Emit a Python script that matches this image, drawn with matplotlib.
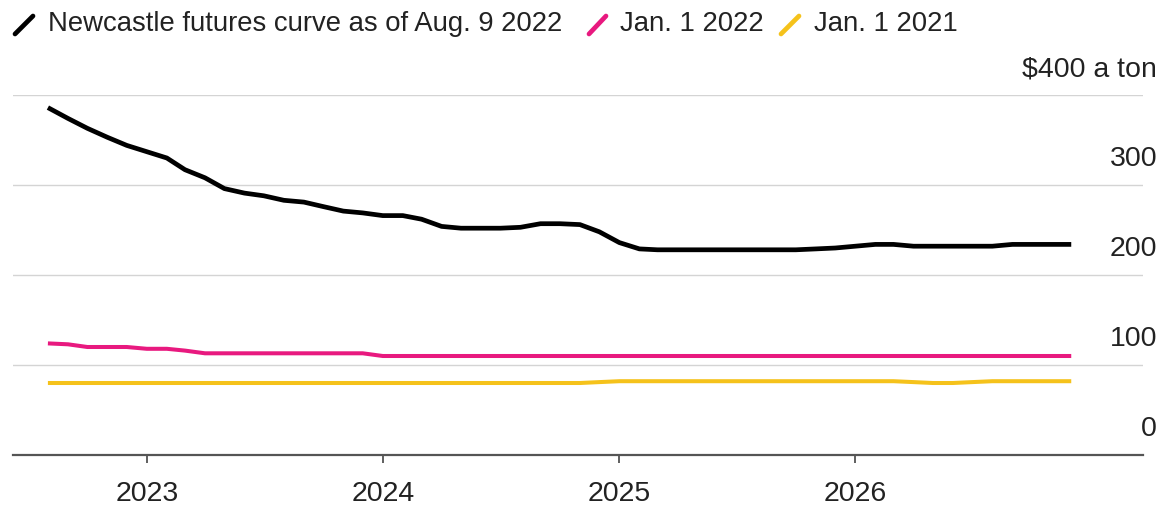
import matplotlib
matplotlib.use("Agg")
import matplotlib.pyplot as plt
import pandas as pd
from matplotlib.lines import Line2D

plt.rcParams['font.family'] = ['Liberation Sans', 'DejaVu Sans']

# Monthly contract months, Aug 2022 .. Dec 2026
months = pd.date_range('2022-08-01', '2026-12-01', freq='MS')

# Newcastle futures curve as of Aug. 9 2022 ($/ton)
curve_aug2022 = [386, 374, 363, 353, 344, 337, 330, 317, 308, 296, 291, 288,
                 283, 281, 276, 271, 269, 266, 266, 262, 254, 252, 252, 252,
                 253, 257, 257, 256, 248, 236, 229, 228, 228, 228, 228, 228,
                 228, 228, 228, 229, 230, 232, 234, 234, 232, 232, 232, 232,
                 232, 234, 234, 234, 234]
# Curve as of Jan. 1 2022
curve_jan2022 = [124, 123, 120, 120, 120, 118, 118, 116, 113, 113, 113, 113,
                 113, 113, 113, 113, 113, 110, 110, 110, 110, 110, 110, 110,
                 110, 110, 110, 110, 110, 110, 110, 110, 110, 110, 110, 110,
                 110, 110, 110, 110, 110, 110, 110, 110, 110, 110, 110, 110,
                 110, 110, 110, 110, 110]
# Curve as of Jan. 1 2021
curve_jan2021 = [80, 80, 80, 80, 80, 80, 80, 80, 80, 80, 80, 80,
                 80, 80, 80, 80, 80, 80, 80, 80, 80, 80, 80, 80,
                 80, 80, 80, 80, 81, 82, 82, 82, 82, 82, 82, 82,
                 82, 82, 82, 82, 82, 82, 82, 82, 81, 80, 80, 81,
                 82, 82, 82, 82, 82]

series_labels = ['Newcastle futures curve as of Aug. 9 2022', 'Jan. 1 2022', 'Jan. 1 2021']
series_colors = ['#000000', '#e8197f', '#f5c21b']

y_ticks = [0, 100, 200, 300, 400]
y_tick_labels = ['0', '100', '200', '300', '$400 a ton']
x_ticks = ['2023-01-01', '2024-01-01', '2025-01-01', '2026-01-01']
x_tick_labels = ['2023', '2024', '2025', '2026']

W, H = 1168, 507
fig = plt.figure(figsize=(W / 100, H / 100), dpi=100)
ax = fig.add_axes([13 / W, (H - 455) / H, 1130 / W, 360 / H])

for vals, col, lw in zip([curve_jan2021, curve_jan2022, curve_aug2022],
                         [series_colors[2], series_colors[1], series_colors[0]],
                         [2.9, 2.9, 3.4]):
    ax.plot(months, vals, color=col, lw=lw, solid_capstyle='butt', solid_joinstyle='round', zorder=3)

ax.set_ylim(0, 400)
ax.set_xlim(pd.Timestamp('2022-06-08'), pd.Timestamp('2027-03-22'))

for s in ['top', 'right', 'left']:
    ax.spines[s].set_visible(False)
ax.spines['bottom'].set_color('#555555')
ax.spines['bottom'].set_linewidth(1.6)
ax.spines['bottom'].set_zorder(4)

for yv in y_ticks[1:]:
    ax.axhline(yv, color='#d4d4d4', lw=1.0, zorder=1)

ax.set_yticks([])
ax.set_xticks([pd.Timestamp(t) for t in x_ticks])
ax.set_xticklabels(x_tick_labels)
ax.tick_params(axis='x', direction='out', length=6, width=1.2, color='#444444',
               labelsize=20.5, labelcolor='#222222', pad=13)

ytr = ax.get_yaxis_transform()
for yv, lab in zip(y_ticks, y_tick_labels):
    ax.annotate(lab, xy=(1.0125, yv), xycoords=ytr, xytext=(0, 18.5), textcoords='offset points',
                ha='right', va='center', fontsize=20.5, color='#222222', annotation_clip=False)

# Legend at top: slanted strokes + labels
leg_x = [(15, 33, 48), (589, 606, 620), (781, 799, 814)]
for (x0, x1, xt), lab, col in zip(leg_x, series_labels, series_colors):
    fig.add_artist(Line2D([x0 / W, x1 / W], [(H - 34) / H, (H - 16) / H],
                          transform=fig.transFigure, color=col, lw=3.4, solid_capstyle='round'))
    fig.text(xt / W, (H - 24) / H, lab, ha='left', va='center', fontsize=19.8, color='#222222')

fig.savefig('out.png', dpi=100)
